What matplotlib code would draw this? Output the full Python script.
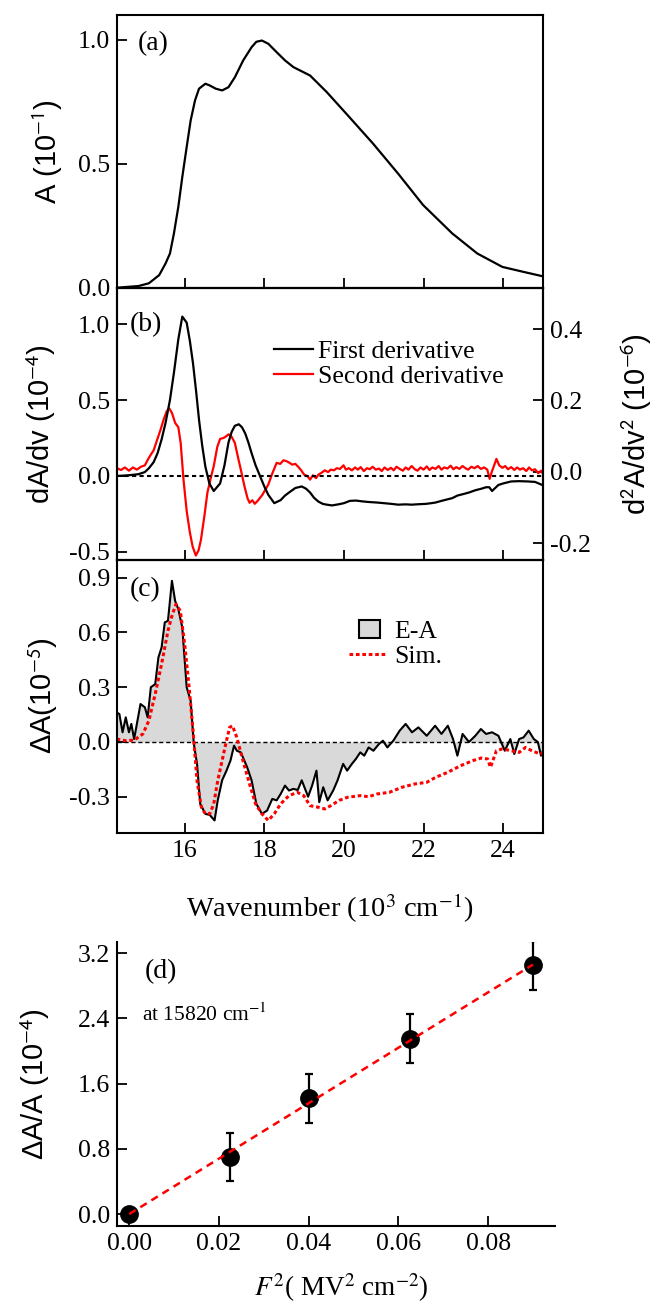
import numpy as np
import matplotlib.pyplot as plt
import matplotlib.patches as mpatches
from matplotlib.lines import Line2D
from matplotlib.legend_handler import HandlerPatch
from matplotlib.ticker import FormatStrFormatter

plt.rcParams['font.family'] = ['Liberation Serif', 'DejaVu Serif']
plt.rcParams['axes.unicode_minus'] = False
plt.rcParams['axes.linewidth'] = 1.5

SERIF = ['Liberation Serif', 'DejaVu Serif']
SANS = ['Liberation Sans', 'DejaVu Sans']
RED = '#ff0000'
GRAY = '#d9d9d9'

# (a) absorption spectrum, x in 10^3 cm^-1, A in 10^-1
abs_x = [14.30, 14.36, 14.84, 15.10, 15.36, 15.52, 15.63, 15.73, 15.84, 15.94, 16.05, 16.15,
         16.26, 16.36, 16.52, 16.63, 16.78, 16.94, 17.10, 17.26, 17.47, 17.68, 17.80, 17.94,
         18.10, 18.31, 18.52, 18.73, 19.15, 19.57, 20.10, 20.73, 21.36, 21.99, 22.72, 23.35,
         23.98, 24.51, 25.00]
abs_y = [0.0, 0.001, 0.007, 0.018, 0.051, 0.098, 0.138, 0.219, 0.326, 0.446, 0.567, 0.674,
         0.755, 0.802, 0.822, 0.815, 0.802, 0.795, 0.808, 0.848, 0.916, 0.969, 0.991, 0.996,
         0.983, 0.949, 0.916, 0.889, 0.855, 0.788, 0.694, 0.581, 0.460, 0.333, 0.219, 0.138,
         0.084, 0.064, 0.046]

# (b) first derivative (10^-4)
d1_x = [14.30, 14.37, 14.60, 14.84, 15.00, 15.10, 15.22, 15.32, 15.42, 15.52, 15.63, 15.73,
        15.84, 15.94, 16.05, 16.13, 16.21, 16.29, 16.36, 16.44, 16.52, 16.62, 16.73, 16.89,
        17.00, 17.10, 17.18, 17.26, 17.36, 17.44, 17.52, 17.60, 17.68, 17.78, 17.89, 18.00,
        18.10, 18.25, 18.41, 18.52, 18.62, 18.78, 18.94, 19.05, 19.15, 19.25, 19.36, 19.47,
        19.57, 19.70, 19.88, 20.00, 20.15, 20.30, 20.45, 20.60, 20.83, 21.00, 21.20, 21.36,
        21.55, 21.70, 21.88, 22.05, 22.20, 22.30, 22.45, 22.60, 22.72, 22.85, 23.00, 23.14,
        23.30, 23.45, 23.57, 23.65, 23.72, 23.80, 23.88, 24.00, 24.20, 24.40, 24.62, 24.80,
        24.98]
d1_y = [0.0, 0.0, 0.004, 0.011, 0.025, 0.05, 0.09, 0.15, 0.24, 0.35, 0.50, 0.68,
        0.90, 1.05, 1.01, 0.89, 0.74, 0.55, 0.37, 0.20, 0.06, -0.05, -0.10, -0.05,
        0.07, 0.22, 0.29, 0.33, 0.34, 0.32, 0.28, 0.22, 0.15, 0.07, 0.00, -0.07,
        -0.125, -0.18, -0.16, -0.13, -0.11, -0.08, -0.07, -0.085, -0.11, -0.145, -0.17, -0.185,
        -0.19, -0.195, -0.187, -0.18, -0.165, -0.163, -0.168, -0.172, -0.176, -0.18, -0.185, -0.19,
        -0.188, -0.19, -0.187, -0.185, -0.18, -0.176, -0.165, -0.155, -0.147, -0.13, -0.12, -0.11,
        -0.095, -0.085, -0.075, -0.075, -0.10, -0.08, -0.06, -0.05, -0.037, -0.035, -0.037, -0.04,
        -0.06]

# (b) second derivative (10^-6)
d2_x = [14.30, 14.40, 14.50, 14.60, 14.70, 14.80, 14.90, 15.00, 15.08, 15.15, 15.22, 15.31,
        15.40, 15.47, 15.55, 15.61, 15.68, 15.76, 15.84, 15.90, 15.97, 16.05, 16.13, 16.20,
        16.28, 16.35, 16.41, 16.50, 16.57, 16.65, 16.73, 16.82, 16.89, 16.98, 17.05, 17.10,
        17.18, 17.26, 17.33, 17.41, 17.50, 17.58, 17.63, 17.70, 17.76, 17.83, 17.95, 18.10,
        18.20, 18.31, 18.40, 18.48, 18.55, 18.62, 18.70, 18.78, 18.85, 18.92, 19.00, 19.08,
        19.15, 19.22, 19.30, 19.36, 19.45, 19.52, 19.60, 19.67, 19.75, 19.82, 19.90, 19.99,
        20.05, 20.12, 20.20, 20.28, 20.35, 20.42, 20.50, 20.58, 20.65, 20.72, 20.80, 20.88,
        20.95, 21.02, 21.10, 21.18, 21.25, 21.32, 21.40, 21.48, 21.55, 21.62, 21.70, 21.78,
        21.85, 21.92, 22.00, 22.08, 22.15, 22.22, 22.30, 22.38, 22.45, 22.52, 22.60, 22.68,
        22.75, 22.82, 22.90, 22.98, 23.05, 23.12, 23.20, 23.28, 23.36, 23.44, 23.52, 23.60,
        23.66, 23.72, 23.78, 23.83, 23.90, 23.98, 24.05, 24.12, 24.20, 24.28, 24.35, 24.42,
        24.50, 24.58, 24.65, 24.72, 24.80, 24.88, 24.95, 25.00]
d2_y = [0.010, 0.005, 0.012, 0.003, 0.012, 0.006, 0.014, 0.018, 0.035, 0.048, 0.060, 0.090,
        0.120, 0.146, 0.170, 0.178, 0.165, 0.137, 0.125, 0.080, -0.022, -0.110, -0.170, -0.210,
        -0.235, -0.220, -0.190, -0.120, -0.059, -0.020, 0.016, 0.070, 0.092, 0.095, 0.100, 0.105,
        0.098, 0.081, 0.045, 0.006, -0.040, -0.075, -0.087, -0.080, -0.090, -0.082, -0.065, -0.036,
        -0.005, 0.025, 0.022, 0.032, 0.030, 0.026, 0.020, 0.022, 0.014, 0.005, -0.008, -0.012,
        -0.022, -0.010, -0.018, -0.008, -0.002, 0.004, -0.001, 0.006, 0.004, 0.010, 0.008, 0.018,
        0.006, 0.010, 0.004, 0.012, 0.006, 0.013, 0.002, 0.010, 0.007, 0.014, 0.006, 0.009,
        0.002, 0.012, 0.005, 0.011, 0.004, 0.014, 0.008, 0.003, 0.012, 0.006, 0.016, 0.007,
        0.003, 0.012, 0.006, 0.015, 0.005, 0.012, 0.008, 0.016, 0.006, 0.012, 0.009, 0.017,
        0.007, 0.013, 0.008, 0.016, 0.010, 0.006, 0.014, 0.010, 0.016, 0.008, 0.012, 0.006,
        -0.020, 0.002, 0.020, 0.036, 0.018, 0.011, 0.016, 0.007, 0.013, 0.005, 0.012, 0.006,
        0.010, 0.002, 0.012, 0.004, 0.007, -0.004, 0.003, -0.006]

# (c) electroabsorption spectrum (10^-5)
ea_x = [14.29, 14.36, 14.44, 14.52, 14.60, 14.66, 14.73, 14.89, 15.00, 15.07, 15.15, 15.26,
        15.34, 15.42, 15.50, 15.58, 15.68, 15.76, 15.84, 15.94, 16.05, 16.15, 16.23, 16.31,
        16.39, 16.52, 16.63, 16.75, 16.83, 16.94, 17.05, 17.15, 17.24, 17.31, 17.41, 17.57,
        17.68, 17.80, 17.94, 18.07, 18.20, 18.31, 18.41, 18.52, 18.62, 18.73, 18.84, 18.94,
        19.10, 19.20, 19.31, 19.38, 19.48, 19.59, 19.73, 19.84, 19.98, 20.08, 20.20, 20.30,
        20.41, 20.51, 20.62, 20.74, 20.88, 20.98, 21.09, 21.24, 21.40, 21.55, 21.71, 21.87,
        22.08, 22.29, 22.45, 22.61, 22.74, 22.85, 22.98, 23.14, 23.30, 23.44, 23.57, 23.72,
        23.88, 24.04, 24.18, 24.28, 24.40, 24.51, 24.64, 24.77, 24.87, 24.95, 25.00]
ea_y = [0.162, 0.153, 0.053, 0.135, 0.053, 0.099, 0.016, 0.208, 0.190, 0.135, 0.300, 0.317,
        0.463, 0.518, 0.655, 0.664, 0.883, 0.773, 0.728, 0.627, 0.300, 0.226, -0.011, -0.120,
        -0.339, -0.394, -0.400, -0.430, -0.320, -0.210, -0.157, -0.102, -0.020, -0.048, -0.057, -0.139,
        -0.210, -0.339, -0.394, -0.376, -0.312, -0.320, -0.285, -0.239, -0.266, -0.257, -0.263, -0.210,
        -0.300, -0.239, -0.157, -0.330, -0.248, -0.320, -0.266, -0.210, -0.120, -0.157, -0.120, -0.093,
        -0.057, -0.075, -0.030, -0.048, -0.011, 0.007, -0.030, 0.007, 0.062, 0.099, 0.053, 0.080,
        0.034, 0.089, 0.044, 0.089, 0.016, -0.075, 0.044, 0.000, 0.034, 0.071, 0.044, 0.053,
        0.034, -0.048, 0.016, -0.066, 0.016, 0.025, 0.062, 0.016, 0.000, -0.075, -0.048]

# (c) simulation
sim_x = [14.29, 14.52, 14.73, 14.95, 15.10, 15.26, 15.42, 15.58, 15.68, 15.78, 15.89, 16.00,
         16.12, 16.21, 16.31, 16.42, 16.52, 16.63, 16.73, 16.83, 16.94, 17.05, 17.13, 17.20,
         17.31, 17.44, 17.63, 17.78, 17.94, 18.10, 18.25, 18.41, 18.62, 18.83, 18.99, 19.15,
         19.36, 19.52, 19.67, 19.88, 20.09, 20.41, 20.62, 20.83, 21.14, 21.46, 21.78, 22.08,
         22.30, 22.61, 22.93, 23.24, 23.45, 23.61, 23.68, 23.83, 23.98, 24.20, 24.40, 24.56,
         24.72, 24.93, 25.00]
sim_y = [0.016, 0.007, 0.010, 0.044, 0.117, 0.263, 0.427, 0.609, 0.691, 0.755, 0.719, 0.536,
         0.281, 0.062, -0.212, -0.358, -0.394, -0.394, -0.339, -0.212, -0.102, 0.007, 0.080, 0.089,
         0.025, -0.084, -0.230, -0.339, -0.394, -0.430, -0.394, -0.339, -0.294, -0.276, -0.294, -0.349,
         -0.358, -0.367, -0.349, -0.320, -0.303, -0.294, -0.300, -0.285, -0.276, -0.248, -0.230, -0.221,
         -0.194, -0.166, -0.130, -0.102, -0.088, -0.093, -0.139, -0.048, -0.038, -0.048, -0.057, -0.030,
         -0.048, -0.066, -0.060]

# (d) field dependence at 15820 cm^-1
f2 = [0.0, 0.0225, 0.04, 0.0625, 0.09]
dA_A = [0.0, 0.70, 1.42, 2.15, 3.05]
dA_A_err = [0.0, 0.30, 0.30, 0.30, 0.30]
fit_x = [0.0, 0.09]
fit_y = [0.0, 3.06]

TICK_FS = 18.5
LEG_FS = 18.5
PANEL_FS = 20
YLAB_FS = 21


def style_axis(ax):
    ax.tick_params(direction='in', length=7, width=1.3, labelsize=TICK_FS, pad=5)
    for lab in ax.get_xticklabels() + ax.get_yticklabels():
        lab.set_family(SERIF)


def small_box(legend, orig_handle, xdescent, ydescent, width, height, fontsize):
    return mpatches.Rectangle((0.28 * width - xdescent, -ydescent), 0.54 * width, height)


fig = plt.figure(figsize=(6.56, 13.14), dpi=100)

L, W = 117 / 656, 426 / 656
axa = fig.add_axes([L, 0.7810, W, 0.2078])
axb = fig.add_axes([L, 0.5738, W, 0.2072])
axc = fig.add_axes([L, 0.3663, W, 0.2075])
axd = fig.add_axes([116.7 / 656, 0.0672, 438.3 / 656, 0.2161])

wn_ticks = [16, 18, 20, 22, 24]

# panel a
axa.plot(abs_x, abs_y, color='black', lw=1.6)
axa.set_xlim(14.3, 25.0)
axa.set_ylim(0, 1.1)
axa.set_xticks(wn_ticks)
axa.set_yticks([0.0, 0.5, 1.0])
axa.yaxis.set_major_formatter(FormatStrFormatter('%.1f'))
style_axis(axa)
axa.tick_params(labelbottom=False)
axa.set_ylabel('A (10$^{-1}$)', family=SANS, fontsize=YLAB_FS, math_fontfamily='stixsans')
axa.yaxis.set_label_coords(-0.123, 0.5)
axa.text(0.049, 0.895, '(a)', transform=axa.transAxes, fontsize=PANEL_FS, va='center')

# panel b
axb.axhline(0, color='black', lw=1.5, ls=(0, (2, 1.6)))
axb.plot(d1_x, d1_y, color='black', lw=1.6)
axb.set_xlim(14.3, 25.0)
axb.set_ylim(-0.555, 1.24)
axb.set_xticks(wn_ticks)
axb.set_yticks([-0.5, 0.0, 0.5, 1.0])
axb.yaxis.set_major_formatter(FormatStrFormatter('%.1f'))
style_axis(axb)
axb.tick_params(labelbottom=False)
axb.set_ylabel('dA/dv (10$^{-4}$)', family=SANS, fontsize=YLAB_FS, math_fontfamily='stixsans')
axb.yaxis.set_label_coords(-0.138, 0.5)
axb.text(0.03, 0.863, '(b)', transform=axb.transAxes, fontsize=PANEL_FS, va='center')

axb2 = axb.twinx()
axb2.plot(d2_x, d2_y, color=RED, lw=1.6)
axb2.set_ylim(-0.2476, 0.516)
axb2.set_yticks([-0.2, 0.0, 0.2, 0.4])
axb2.yaxis.set_major_formatter(FormatStrFormatter('%.1f'))
style_axis(axb2)
axb2.set_ylabel('d$^2$A/dv$^2$ (10$^{-6}$)', family=SANS, fontsize=YLAB_FS,
                math_fontfamily='stixsans')
axb2.yaxis.set_label_coords(1.18, 0.5)

leg_b = axb.legend([Line2D([], [], color='black', lw=1.6), Line2D([], [], color=RED, lw=1.6)],
                   ['First derivative', 'Second derivative'],
                   loc='center left', bbox_to_anchor=(0.3685, 0.72), frameon=False,
                   fontsize=LEG_FS, handlelength=1.5, handletextpad=0.2, borderpad=0,
                   borderaxespad=0, labelspacing=0.1)
axb.set_zorder(axb2.get_zorder() + 1)
axb.patch.set_visible(False)

# panel c
axc.fill_between(ea_x, ea_y, 0, color=GRAY, lw=0)
axc.axhline(0, color='black', lw=1.0, ls=(0, (3, 2)))
axc.plot(ea_x, ea_y, color='black', lw=1.5)
axc.plot(sim_x, sim_y, color=RED, lw=2.2, ls=(0, (1.2, 0.9)))
axc.set_xlim(14.3, 25.0)
axc.set_ylim(-0.497, 0.997)
axc.set_xticks(wn_ticks)
axc.set_yticks([-0.3, 0.0, 0.3, 0.6, 0.9])
axc.yaxis.set_major_formatter(FormatStrFormatter('%.1f'))
style_axis(axc)
axc.set_ylabel('ΔA(10$^{-5}$)', family=SANS, fontsize=YLAB_FS, math_fontfamily='stixsans')
axc.yaxis.set_label_coords(-0.133, 0.5)
axc.set_xlabel('Wavenumber (10$^{3}$ cm$^{-1}$)', fontsize=20.5, math_fontfamily='stix')
axc.xaxis.set_label_coords(0.5, -0.215)
axc.text(0.03, 0.89, '(c)', transform=axc.transAxes, fontsize=PANEL_FS, va='center')

ea_patch = mpatches.Patch(facecolor=GRAY, edgecolor='black', lw=1.5)
sim_line = Line2D([], [], color=RED, lw=2.2, ls=(0, (1.2, 0.9)))
axc.legend([ea_patch, sim_line], ['E-A', 'Sim.'], loc='center left',
           bbox_to_anchor=(0.5446, 0.692), frameon=False, fontsize=LEG_FS,
           handlelength=1.45, handletextpad=0.32, borderpad=0, borderaxespad=0,
           labelspacing=0.05, handler_map={mpatches.Patch: HandlerPatch(patch_func=small_box)})

# panel d
axd.errorbar(f2, dA_A, yerr=dA_A_err, fmt='o', color='black', ms=12.5,
             elinewidth=1.6, capsize=3, capthick=1.6, zorder=3)
axd.plot(fit_x, fit_y, color=RED, lw=1.8, ls=(0, (3, 2.2)), zorder=4)
axd.set_xlim(-0.0028, 0.0949)
axd.set_ylim(-0.143, 3.34)
axd.set_xticks([0.0, 0.02, 0.04, 0.06, 0.08])
axd.set_yticks([0.0, 0.8, 1.6, 2.4, 3.2])
axd.xaxis.set_major_formatter(FormatStrFormatter('%.2f'))
axd.yaxis.set_major_formatter(FormatStrFormatter('%.1f'))
axd.spines['top'].set_visible(False)
axd.spines['right'].set_visible(False)
style_axis(axd)
axd.set_ylabel('ΔA/A (10$^{-4}$)', family=SANS, fontsize=YLAB_FS, math_fontfamily='stixsans')
axd.yaxis.set_label_coords(-0.148, 0.5)
axd.set_xlabel('$F^2$( MV$^2$ cm$^{-2}$)', fontsize=19.5, math_fontfamily='stix')
axd.xaxis.set_label_coords(0.512, -0.16)
axd.text(0.063, 0.894, '(d)', transform=axd.transAxes, fontsize=PANEL_FS, va='center')
axd.text(0.058, 0.742, 'at 15820 cm$^{-1}$', transform=axd.transAxes, fontsize=15.5,
         va='center', math_fontfamily='stix')

fig.savefig('out.png', dpi=100)
